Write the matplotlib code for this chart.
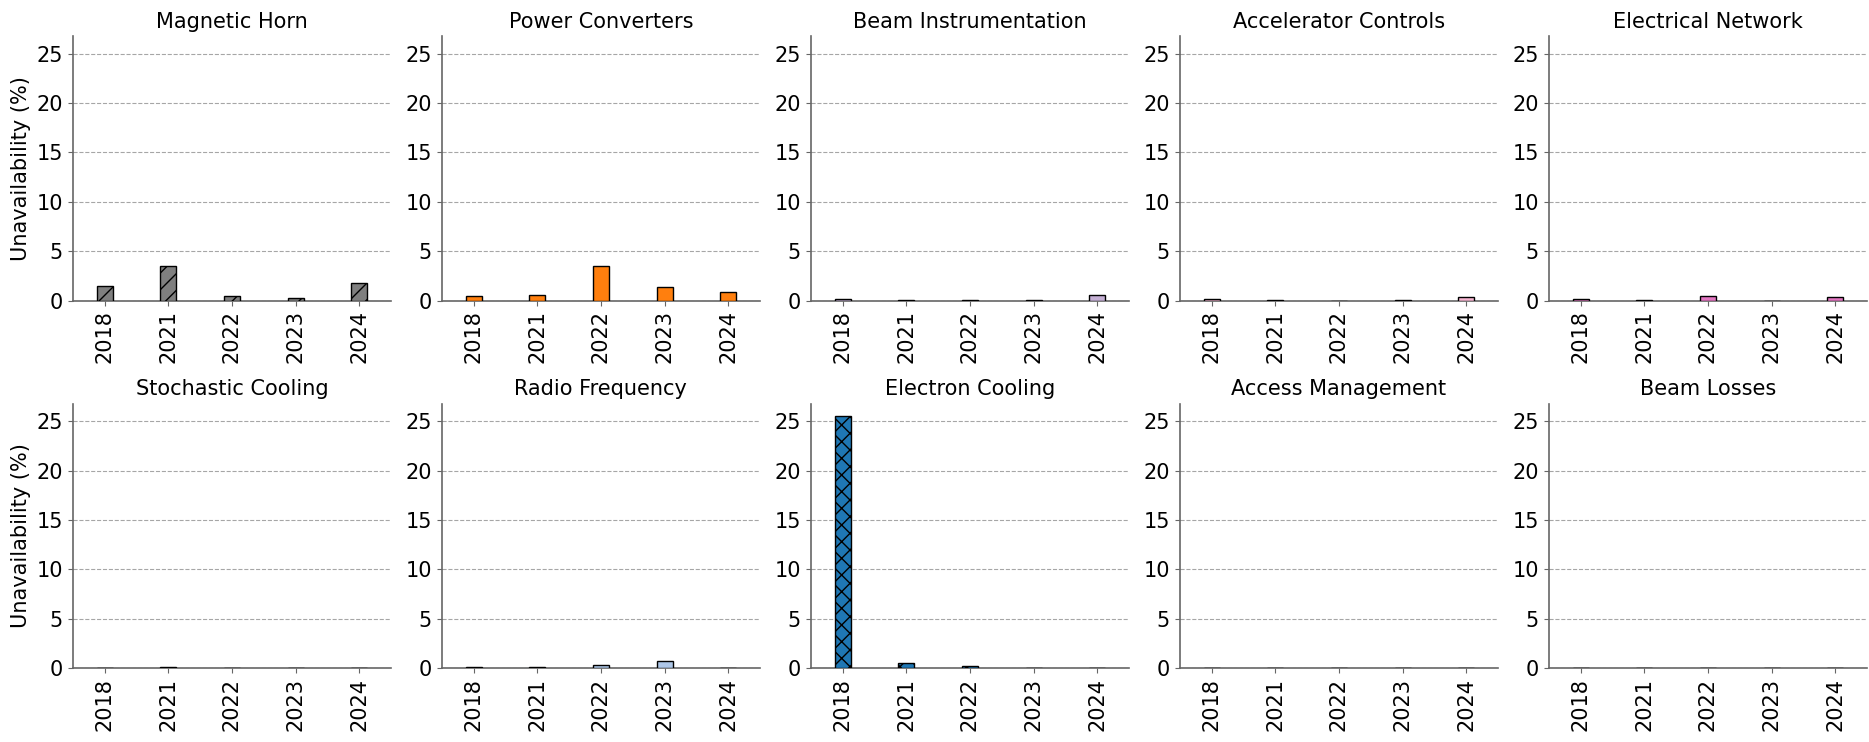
import matplotlib
matplotlib.use("Agg")
import matplotlib.pyplot as plt
import numpy as np

years = ["2018", "2021", "2022", "2023", "2024"]

systems = ["Magnetic Horn", "Power Converters", "Beam Instrumentation",
           "Accelerator Controls", "Electrical Network",
           "Stochastic Cooling", "Radio Frequency", "Electron Cooling",
           "Access Management", "Beam Losses"]

# unavailability per system and year (%)
magnetic_horn = [1.5, 3.5, 0.45, 0.3, 1.78]
power_converters = [0.45, 0.6, 3.55, 1.37, 0.86]
beam_instrumentation = [0.12, 0.05, 0.02, 0.03, 0.6]
accelerator_controls = [0.18, 0.08, 0.01, 0.04, 0.38]
electrical_network = [0.15, 0.02, 0.5, 0.01, 0.35]
stochastic_cooling = [0.01, 0.1, 0.01, 0.01, 0.07]
radio_frequency = [0.1, 0.1, 0.3, 0.74, 0.03]
electron_cooling = [25.5, 0.5, 0.22, 0.01, 0.03]
access_management = [0.03, 0.01, 0.03, 0.01, 0.01]
beam_losses = [0.03, 0.01, 0.01, 0.01, 0.01]

values = [magnetic_horn, power_converters, beam_instrumentation,
          accelerator_controls, electrical_network, stochastic_cooling,
          radio_frequency, electron_cooling, access_management, beam_losses]

colors = ["#7f7f7f", "#ff7f0e", "#c5b0d5", "#f7b6d2", "#e377c2",
          "#2ca02c", "#aec7e8", "#1f77b4", "#98df8a", "#d62728"]
hatches = ["//", None, None, None, None, None, None, "xx", None, None]

ymax = max(max(v) for v in values) * 1.05

fig, axes = plt.subplots(2, 5, figsize=(18.69, 7.42), dpi=100)
fig.subplots_adjust(left=0.0389, right=0.999, top=0.9515, bottom=0.0993,
                    wspace=0.159, hspace=0.389)

x = np.arange(len(years))
for i, ax in enumerate(axes.flat):
    ax.bar(x, values[i], width=0.25, color=colors[i], edgecolor="black",
           linewidth=1.0, hatch=hatches[i], zorder=3)
    ax.set_title(systems[i], fontsize=15)
    ax.set_xlim(-0.5, 4.5)
    ax.set_ylim(0, ymax)
    ax.set_yticks([0, 5, 10, 15, 20, 25])
    ax.set_xticks(x)
    ax.set_xticklabels(years, rotation=90)
    ax.tick_params(axis="x", labelsize=15, color="#666666")
    ax.tick_params(axis="y", labelsize=15, color="#666666")
    ax.grid(axis="y", linestyle="--", color="gray", alpha=0.7, linewidth=0.8)
    ax.set_axisbelow(True)
    ax.spines["top"].set_visible(False)
    ax.spines["right"].set_visible(False)
    ax.spines["left"].set_color("#666666")
    ax.spines["bottom"].set_color("#666666")
    ax.spines["left"].set_linewidth(1.2)
    ax.spines["bottom"].set_linewidth(1.2)
    if i % 5 == 0:
        ax.set_ylabel("Unavailability (%)", fontsize=15)

fig.savefig("out.png", dpi=100)
